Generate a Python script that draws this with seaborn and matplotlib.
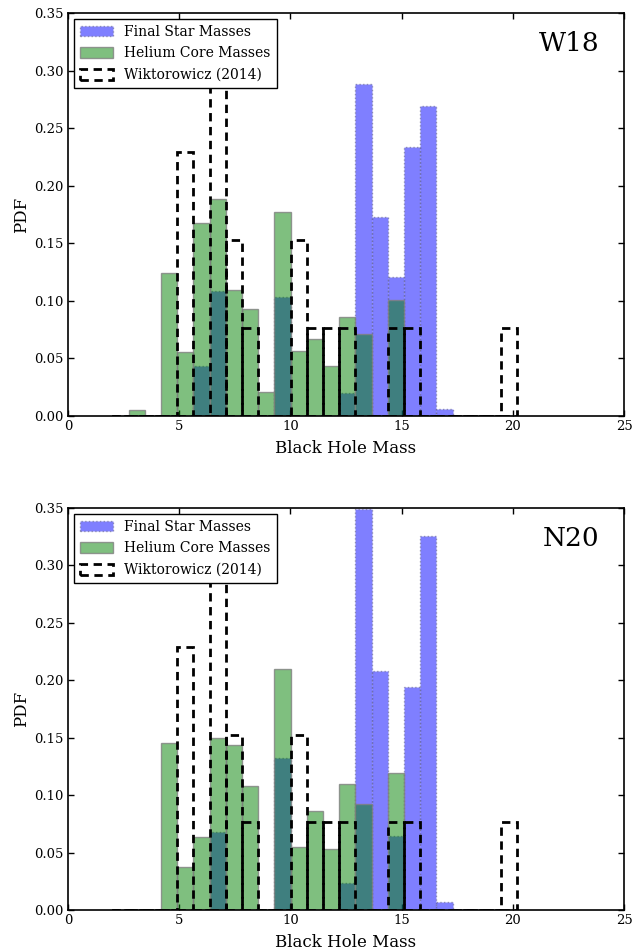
import numpy as np
import pandas as pd
import seaborn as sns
import matplotlib.pyplot as plt

# shared histogram bins (25 bins between 2.0 and 20.2)
bin_edges = list(np.linspace(2.0, 20.2, 26))
bin_centers = [0.5 * (a + b) for a, b in zip(bin_edges[:-1], bin_edges[1:])]

# W18 panel
w18_final = [0, 0, 0, 0, 0, 0.0435, 0.1083, 0, 0, 0, 0.1034, 0, 0, 0, 0.0197,
             0.2885, 0.173, 0.121, 0.234, 0.269, 0.0058, 0, 0, 0, 0]
w18_helium = [0, 0.005, 0, 0.124, 0.0556, 0.1674, 0.1886, 0.1092, 0.0933, 0.0209,
              0.1773, 0.0565, 0.0666, 0.0435, 0.086, 0.0713, 0, 0.1005, 0, 0,
              0, 0, 0, 0, 0]

# N20 panel
n20_final = [0, 0, 0, 0, 0, 0, 0.0677, 0, 0, 0, 0.1323, 0, 0, 0, 0.0238,
             0.3494, 0.2081, 0.0642, 0.1945, 0.3253, 0.007, 0, 0, 0, 0]
n20_helium = [0, 0, 0, 0.1453, 0.0372, 0.0634, 0.15, 0.1436, 0.1078, 0,
              0.2099, 0.0549, 0.086, 0.0532, 0.1093, 0.0919, 0, 0.1189, 0, 0,
              0, 0, 0, 0, 0]

# Wiktorowicz (2014) comparison, same in both panels
wiktorowicz = [0, 0, 0, 0, 0.2289, 0, 0.3052, 0.1526, 0.0763, 0, 0, 0.1526,
               0.0763, 0.0763, 0.0763, 0, 0, 0.0763, 0.0763, 0, 0, 0, 0, 0, 0.0763]

panels = [("W18", w18_final, w18_helium), ("N20", n20_final, n20_helium)]

sns.set_theme(style="ticks")
plt.rcParams["font.family"] = ["DejaVu Serif"]
plt.rcParams["text.color"] = "black"
plt.rcParams["axes.labelcolor"] = "black"

fig = plt.figure(figsize=(6.44, 9.51), dpi=100)
axes = [fig.add_axes([0.1056, 0.5626, 0.8634, 0.4237]),
        fig.add_axes([0.1056, 0.0431, 0.8634, 0.4227])]

for ax, (name, final, helium) in zip(axes, panels):
    df = pd.DataFrame({"mass": bin_centers, "final": final, "helium": helium,
                       "wik": wiktorowicz})
    sns.histplot(data=df, x="mass", weights="final", bins=bin_edges, stat="count",
                 color="blue", alpha=0.5, edgecolor=(0.45, 0.45, 0.6, 0.7),
                 linestyle=":", linewidth=1.0, label="Final Star Masses", ax=ax)
    sns.histplot(data=df, x="mass", weights="helium", bins=bin_edges, stat="count",
                 color="green", alpha=0.5, edgecolor=(0.5, 0.5, 0.5, 0.8),
                 linewidth=1.0, label="Helium Core Masses", ax=ax)
    sns.histplot(data=df, x="mass", weights="wik", bins=bin_edges, stat="count",
                 color="black", fill=False, linestyle=(0, (3, 2)), linewidth=2.0,
                 label="Wiktorowicz (2014)", ax=ax)

    ax.set_xlim(0, 25)
    ax.set_ylim(0, 0.35)
    ax.set_xticks([0, 5, 10, 15, 20, 25])
    ax.set_yticks(np.arange(0, 0.351, 0.05))
    ax.yaxis.set_major_formatter(plt.FormatStrFormatter("%.2f"))
    ax.tick_params(direction="in", length=4, width=1, top=True, right=True,
                   labelsize=9.5, colors="black", pad=3)
    for s in ax.spines.values():
        s.set_visible(True)
        s.set_linewidth(1.2)
        s.set_color("black")
    ax.set_xlabel("Black Hole Mass", fontsize=12, labelpad=5)
    ax.set_ylabel("PDF", fontsize=12, labelpad=3)
    ax.text(0.955, 0.925, name, transform=ax.transAxes, ha="right", va="center",
            fontsize=19)
    leg = ax.legend(loc="upper left", fontsize=10, handlelength=2.4,
                    handleheight=0.8, borderaxespad=0.4, fancybox=False,
                    framealpha=1, edgecolor="black", labelspacing=0.55,
                    borderpad=0.45, handletextpad=0.8)
    leg.get_frame().set_linewidth(1.0)

fig.savefig("out.png", dpi=100)
